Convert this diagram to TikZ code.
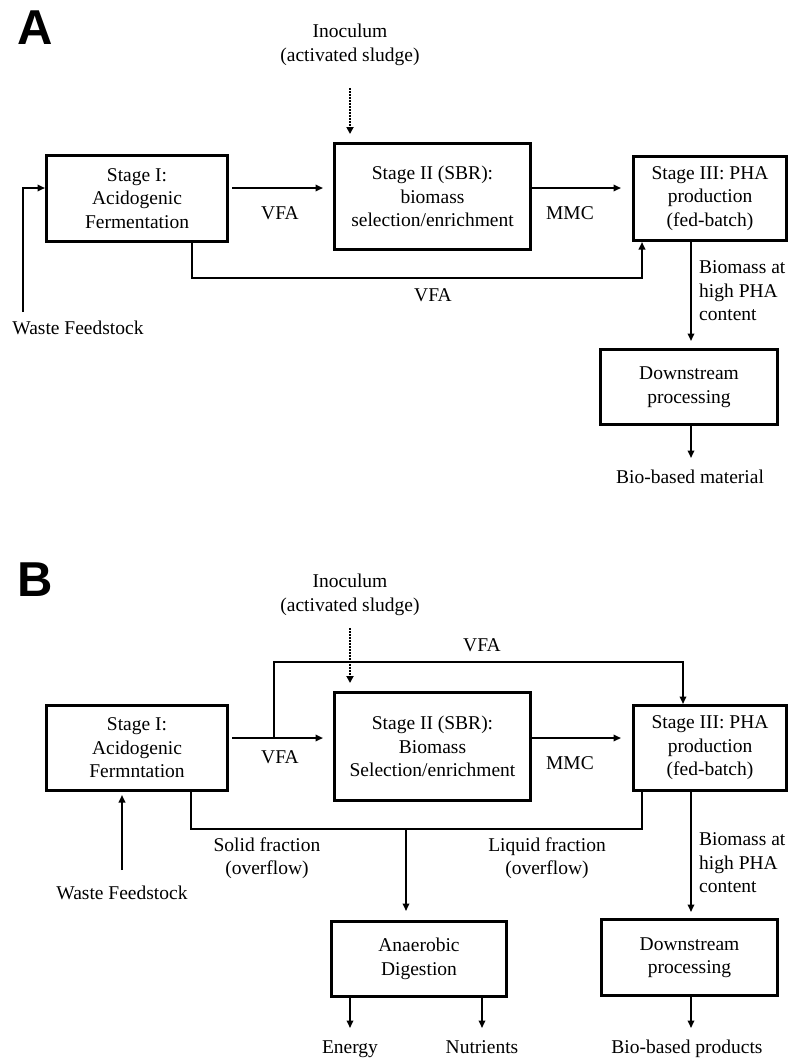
\documentclass[tikz,border=0pt]{standalone}
\usepackage{fontspec}
\setmainfont{Liberation Serif}
\newfontfamily\labfont{Liberation Sans}
\usetikzlibrary{arrows.meta}
\begin{document}
\begin{tikzpicture}[x=1pt,y=-1pt,
  txt/.style={font=\fontsize{19.5}{23.5}\selectfont, align=center, inner sep=0pt},
  box/.style={txt, draw, line width=3pt},
  panel/.style={font=\labfont\bfseries\fontsize{49}{49}\selectfont, inner sep=0pt},
  conn/.style={line width=1.8pt},
  arr/.style={conn, -{Triangle[length=7.5pt,width=6.5pt]}},
  dotarr/.style={line width=2pt, dash pattern=on 1.5pt off 1.5pt, -{Triangle[length=7pt,width=7pt]}}
]
\useasboundingbox (0,0) rectangle (791,1058);

% ================= Panel A =================
\node[panel] (labA) at (35,28) {A};
\node[txt] (inocA) at (350,45) {Inoculum\\(activated sludge)};

\node[box, minimum width=181pt, minimum height=86pt] (s1A) at (137,198.5) {Stage I:\\Acidogenic\\Fermentation};
\node[box, minimum width=196pt, minimum height=106pt] (s2A) at (432.5,196.5) {Stage II (SBR):\\biomass\\selection/enrichment};
\node[box, minimum width=153pt, minimum height=84pt] (s3A) at (710,198.5) {Stage III: PHA\\production\\(fed-batch)};
\node[box, minimum width=177pt, minimum height=75pt] (dsA) at (689,387) {Downstream\\processing};

\node[txt] (vfa1A) at (280,213) {VFA};
\node[txt] (mmcA) at (570,213) {MMC};
\node[txt] (vfa2A) at (433,295) {VFA};
\node[txt, align=left, anchor=west] (bmA) at (699,291) {Biomass at\\high PHA\\content};
\node[txt] (wfA) at (78,328) {Waste Feedstock};
\node[txt] (bioA) at (690,477) {Bio-based material};

\coordinate (inA) at (350,88);
\coordinate (wfAs) at (23,312);

\draw[dotarr, shorten >=8pt] (inA) -- (s2A.north -| inA);
\draw[arr, shorten <=3pt, shorten >=10pt] (s1A.east |- 0,188) -- (s2A.west |- 0,188);
\draw[arr, shorten >=11pt] (s2A.east |- 0,188) -- (s3A.west |- 0,188);
\draw[arr] (s1A.south -| 192,0) -- (192,278) -| (s3A.south -| 642,0);
\draw[arr] (wfAs) |- (s1A.west |- 0,188);
\draw[arr, shorten >=7pt] (s3A.south -| 691,0) -- (dsA.north -| 691,0);
\draw[arr] (dsA.south -| 691,0) -- ++(0,32);

% ================= Panel B =================
\node[panel] (labB) at (35,580) {B};
\node[txt] (inocB) at (350,595) {Inoculum\\(activated sludge)};

\node[box, minimum width=181pt, minimum height=85pt] (s1B) at (137,748) {Stage I:\\Acidogenic\\Fermntation};
\node[box, minimum width=196pt, minimum height=108pt] (s2B) at (432.5,746.5) {Stage II (SBR):\\Biomass\\Selection/enrichment};
\node[box, minimum width=153pt, minimum height=85pt] (s3B) at (710,748) {Stage III: PHA\\production\\(fed-batch)};
\node[box, minimum width=175pt, minimum height=75pt] (ad) at (419,959) {Anaerobic\\Digestion};
\node[box, minimum width=176pt, minimum height=76pt] (dsB) at (689.5,957.5) {Downstream\\processing};

\node[txt] (vfa0B) at (482,645) {VFA};
\node[txt] (vfa1B) at (280,757) {VFA};
\node[txt] (mmcB) at (570,763) {MMC};
\node[txt] (solid) at (267,858) {Solid fraction\\(overflow)};
\node[txt] (liquid) at (547,858) {Liquid fraction\\(overflow)};
\node[txt, align=left, anchor=west] (bmB) at (699,863) {Biomass at\\high PHA\\content};
\node[txt] (wfB) at (122,893) {Waste Feedstock};
\node[txt, anchor=base] (energy) at (350,1053) {Energy};
\node[txt, anchor=base] (nutr) at (482,1053) {Nutrients};
\node[txt, anchor=base] (bioB) at (687,1053) {Bio-based products};

\coordinate (inB) at (350,628);
\coordinate (wfBs) at (122,870);
\coordinate (brB) at (274,738);
\coordinate (jn) at (406,829);

\draw[dotarr, shorten >=8pt] (inB) -- (s2B.north -| inB);
\draw[arr, shorten <=3pt, shorten >=10pt] (s1B.east |- 0,738) -- (s2B.west |- 0,738);
\draw[arr] (brB) |- (683,662) -- (s3B.north -| 683,0);
\draw[arr, shorten >=11pt] (s2B.east |- 0,738) -- (s3B.west |- 0,738);
\draw[conn] (s1B.south -| 191,0) -- (191,829) -| (s3B.south -| 642,0);
\draw[arr, shorten >=9pt] (jn) -- (ad.north -| jn);
\draw[arr, shorten >=3pt] (wfBs) -- (s1B.south -| wfBs);
\draw[arr, shorten >=6pt] (s3B.south -| 691,0) -- (dsB.north -| 691,0);
\draw[arr] (dsB.south -| 691,0) -- ++(0,31);
\draw[arr] (ad.south -| 350,0) -- ++(0,30);
\draw[arr] (ad.south -| 482,0) -- ++(0,30);
\end{tikzpicture}
\end{document}
